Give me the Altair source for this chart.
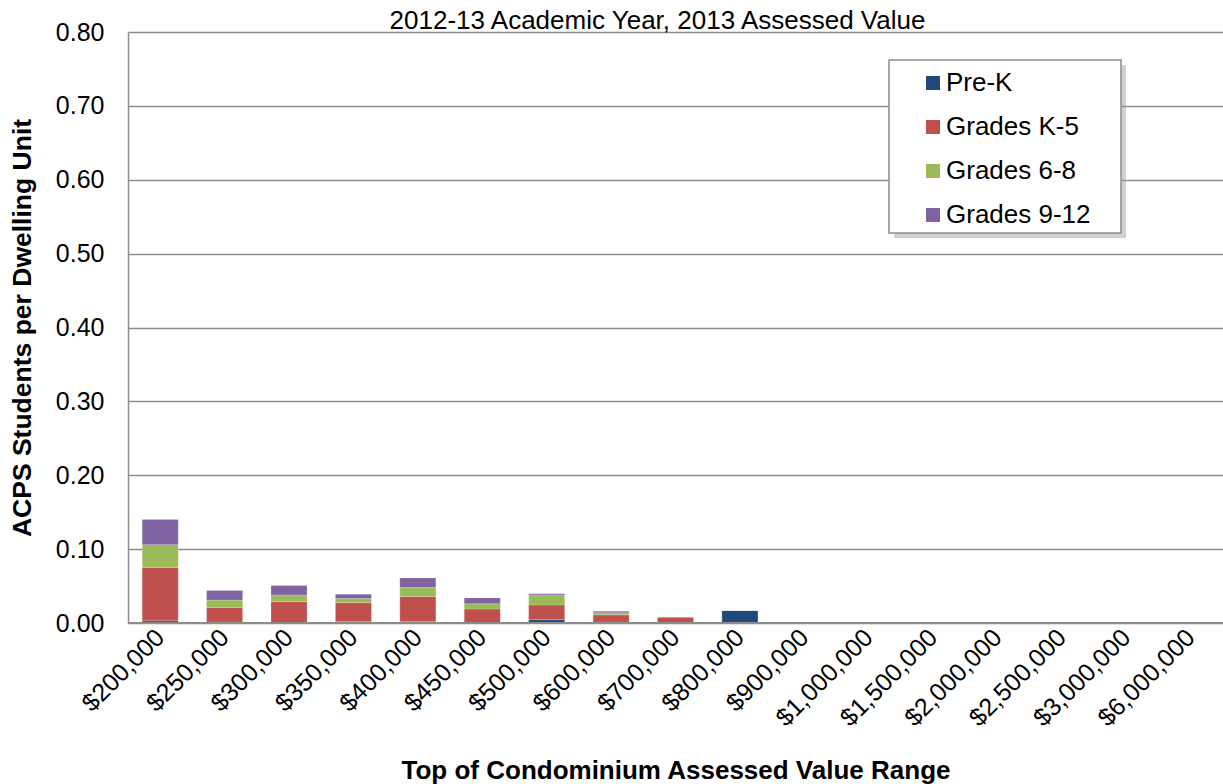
import altair as alt
import pandas as pd

categories = ["$200,000", "$250,000", "$300,000", "$350,000", "$400,000", "$450,000",
              "$500,000", "$600,000", "$700,000", "$800,000", "$900,000", "$1,000,000",
              "$1,500,000", "$2,000,000", "$2,500,000", "$3,000,000", "$6,000,000"]
series = ["Pre-K", "Grades K-5", "Grades 6-8", "Grades 9-12"]
prek = [0.003, 0.001, 0.0, 0.002, 0.002, 0.0, 0.0045, 0.001, 0.0, 0.017, 0, 0, 0, 0, 0, 0, 0]
k5 = [0.072, 0.020, 0.029, 0.0255, 0.034, 0.019, 0.020, 0.010, 0.008, 0, 0, 0, 0, 0, 0, 0, 0]
g68 = [0.031, 0.010, 0.009, 0.0055, 0.012, 0.007, 0.0135, 0.003, 0, 0, 0, 0, 0, 0, 0, 0, 0]
g912 = [0.034, 0.013, 0.0126, 0.006, 0.013, 0.008, 0.0015, 0.002, 0, 0, 0, 0, 0, 0, 0, 0, 0]
colors = ["#1F497D", "#C0504D", "#9BBB59", "#8064A2"]

rows = []
for si, (name, vals) in enumerate(zip(series, [prek, k5, g68, g912])):
    for c, v in zip(categories, vals):
        rows.append({"cat": c, "series": name, "value": v, "ord": si})
df = pd.DataFrame(rows)

FONT = "Liberation Sans"

bars = alt.Chart(df).mark_bar(stroke="#ffffff", strokeWidth=0.5, strokeOpacity=0.4).encode(
    x=alt.X("cat:N", sort=categories, scale=alt.Scale(paddingInner=0.44, paddingOuter=0.22),
            axis=alt.Axis(title="Top of Condominium Assessed Value Range", labelAngle=-45,
                          labelAlign="right", labelBaseline="middle", labelPadding=10,
                          labelFontSize=25, labelColor="#000000", labelFont=FONT,
                          ticks=False, domain=False, grid=False,
                          titleFontSize=26, titleFont=FONT, titleFontWeight="bold",
                          titleColor="#000000", titleY=147, titleBaseline="middle")),
    y=alt.Y("value:Q", stack="zero", scale=alt.Scale(domain=[0, 0.8], nice=False),
            axis=alt.Axis(title="ACPS Students per Dwelling Unit", values=[0, 0.1, 0.2, 0.3, 0.4, 0.5, 0.6, 0.7, 0.8],
                          format=".2f", labelFontSize=25, labelFont=FONT, labelColor="#000000",
                          labelPadding=24, ticks=False, domain=True, domainColor="#8c8c8c",
                          domainWidth=1.5, grid=True, gridColor="#8c8c8c", gridWidth=1.5,
                          titleFontSize=26.5, titleFont=FONT, titleFontWeight="bold",
                          titleColor="#000000", titleX=-106, titleY=295.5, titleBaseline="middle")),
    color=alt.Color("series:N", sort=series, scale=alt.Scale(domain=series, range=colors),
                    legend=alt.Legend(title=None, orient="none", legendX=792, legendY=38,
                                      symbolType="square", symbolSize=196, symbolStrokeWidth=0,
                                      labelFontSize=26, labelFont=FONT, labelColor="#000000",
                                      rowPadding=18, labelOffset=0, padding=0)),
    order=alt.Order("ord:Q", sort="ascending"),
)

frame_data = alt.Data(values=[{"k": 1}])
shadow = alt.Chart(frame_data).mark_rect(fill="#999999", opacity=0.45).encode(
    x=alt.value(766), x2=alt.value(998), y=alt.value(33), y2=alt.value(206))
frame = alt.Chart(frame_data).mark_rect(fill="#ffffff", stroke="#8c8c8c", strokeWidth=1.5).encode(
    x=alt.value(761), x2=alt.value(993), y=alt.value(28), y2=alt.value(201))

baseline = alt.Chart(frame_data).mark_rule(color="#8c8c8c", strokeWidth=2).encode(
    x=alt.value(0), x2=alt.value(1095), y=alt.value(591))

chart = alt.layer(shadow, frame, bars, baseline).properties(
    width=1095, height=591,
    title=alt.TitleParams("2012-13 Academic Year, 2013 Assessed Value", fontSize=26, font=FONT,
                          fontWeight="normal", color="#000000", anchor="middle", dx=-18,
                          offset=-14),
    autosize=alt.AutoSizeParams(type="none"),
    padding={"left": 128, "top": 32, "right": 0, "bottom": 161},
).configure_view(stroke=None).configure(background="#ffffff")

chart.save("out.html", embed_options={"renderer": "svg", "actions": False})
